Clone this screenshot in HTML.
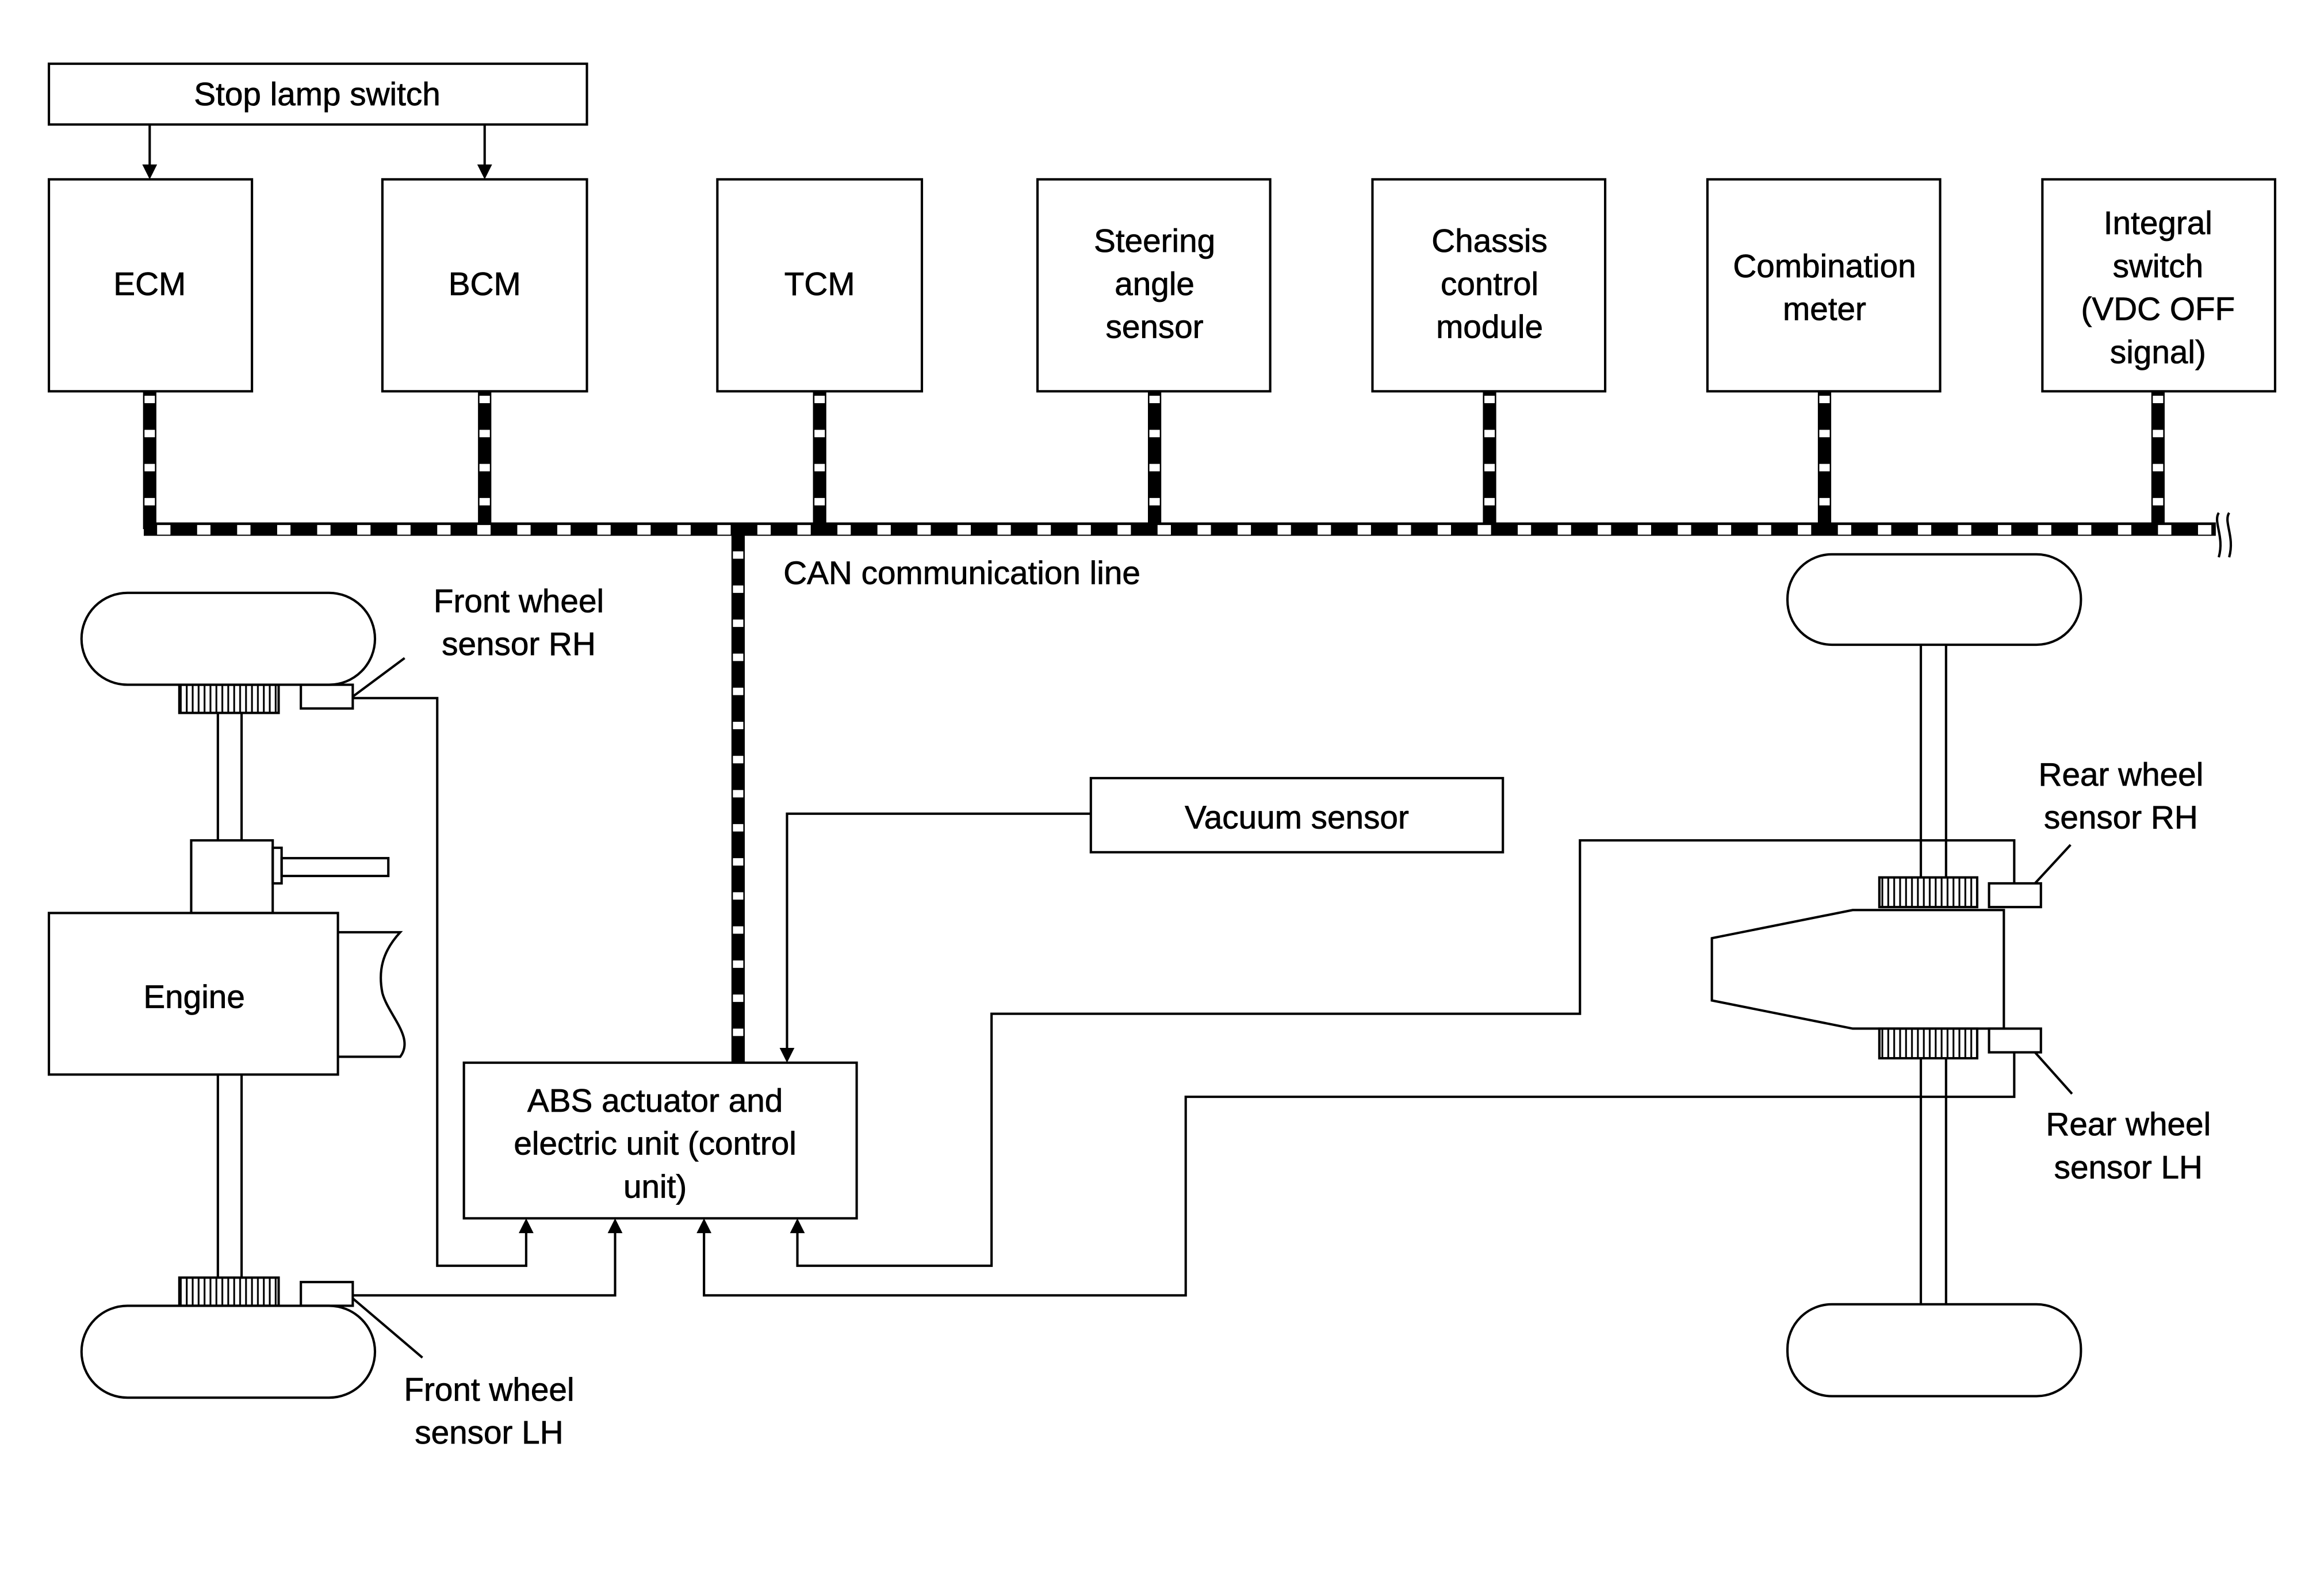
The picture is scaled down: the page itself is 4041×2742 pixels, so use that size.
<!DOCTYPE html>
<html><head><meta charset="utf-8"><style>
html,body{margin:0;padding:0;background:#fff;}
svg{display:block;}
text{font-family:"Liberation Sans",sans-serif;font-size:22px;fill:#000;text-anchor:middle;stroke:#000;stroke-width:0.3px;}
</style></head><body>
<svg width="4041" height="2742" viewBox="0 0 1568 1064" preserveAspectRatio="none" xmlns="http://www.w3.org/2000/svg">
<defs>
<pattern id="gear" width="4" height="20" patternUnits="userSpaceOnUse">
<line x1="2" y1="0" x2="2" y2="20" stroke="#000" stroke-width="1.2"/>
</pattern>
</defs>
<rect width="1568" height="1064" fill="#fff"/>
<g fill="none" stroke="#000" stroke-width="1.6">
<rect x="33" y="43" width="363" height="41"/>
<rect x="33" y="121" width="137" height="143"/>
<rect x="258" y="121" width="138" height="143"/>
<rect x="484" y="121" width="138" height="143"/>
<rect x="700" y="121" width="157" height="143"/>
<rect x="926" y="121" width="157" height="143"/>
<rect x="1152" y="121" width="157" height="143"/>
<rect x="1378" y="121" width="157" height="143"/>
<line x1="101" y1="84" x2="101" y2="112"/>
<line x1="327" y1="84" x2="327" y2="112"/>
<rect x="313" y="717" width="265" height="105"/>
<rect x="736" y="525" width="278" height="50"/>
<polyline points="736,549 531,549 531,708"/>
<rect x="55" y="400" width="198" height="62" rx="31"/>
<rect x="55" y="881" width="198" height="62" rx="31"/>
<rect x="121" y="462" width="67" height="19" fill="url(#gear)"/>
<rect x="121" y="862" width="67" height="19" fill="url(#gear)"/>
<rect x="203" y="462" width="35" height="16"/>
<rect x="203" y="865" width="35" height="16"/>
<line x1="147" y1="481" x2="147" y2="567"/><line x1="163" y1="481" x2="163" y2="567"/>
<line x1="147" y1="725" x2="147" y2="862"/><line x1="163" y1="725" x2="163" y2="862"/>
<rect x="129" y="567" width="55" height="49"/>
<rect x="184" y="572" width="6" height="24"/>
<rect x="190" y="579" width="72" height="12"/>
<rect x="33" y="616" width="195" height="109"/>
<path d="M228,629 L270,629 C258,642 255,655 258,670 C262,685 280,700 270,713 L228,713"/>
<rect x="1206" y="374" width="198" height="61" rx="30"/>
<rect x="1206" y="880" width="198" height="62" rx="30"/>
<line x1="1296" y1="435" x2="1296" y2="592"/><line x1="1313" y1="435" x2="1313" y2="592"/>
<line x1="1296" y1="714" x2="1296" y2="880"/><line x1="1313" y1="714" x2="1313" y2="880"/>
<polygon points="1155,633 1250,614 1352,614 1352,694 1250,694 1155,675"/>
<rect x="1268" y="592" width="66" height="20" fill="url(#gear)"/>
<rect x="1268" y="694" width="66" height="20" fill="url(#gear)"/>
<rect x="1342" y="596" width="35" height="16" fill="#fff"/>
<rect x="1342" y="694" width="35" height="16" fill="#fff"/>
<polyline points="238,471 295,471 295,854 355,854 355,831"/>
<polyline points="238,874 415,874 415,831"/>
<polyline points="1359,596 1359,567 1066,567 1066,684 669,684 669,854 538,854 538,831"/>
<polyline points="1359,710 1359,740 800,740 800,874 475,874 475,831"/>
<line x1="238" y1="470" x2="273" y2="444"/>
<line x1="238" y1="876" x2="285" y2="916"/>
<line x1="1373" y1="596" x2="1397" y2="570"/>
<line x1="1373" y1="710" x2="1398" y2="738"/>
<path d="M1497,346 C1493,352 1501,362 1497,376"/>
<path d="M1504,346 C1500,352 1508,362 1504,376"/>
</g>
<g fill="#000">
<path d="M96,111 L106,111 L101,121 z"/>
<path d="M322,111 L332,111 L327,121 z"/>
<path d="M526,707 L536,707 L531,717 z"/>
<path d="M350,832 L360,832 L355,822 z"/>
<path d="M410,832 L420,832 L415,822 z"/>
<path d="M470,832 L480,832 L475,822 z"/>
<path d="M533,832 L543,832 L538,822 z"/>
</g>
<g fill="none" stroke-linecap="butt">
<g stroke="#000" stroke-width="9">
<line x1="97" y1="357" x2="1495" y2="357"/>
<line x1="498" y1="357" x2="498" y2="717"/>
<line x1="101" y1="264" x2="101" y2="357"/>
<line x1="327" y1="264" x2="327" y2="357"/>
<line x1="553" y1="264" x2="553" y2="357"/>
<line x1="779" y1="264" x2="779" y2="357"/>
<line x1="1005" y1="264" x2="1005" y2="357"/>
<line x1="1231" y1="264" x2="1231" y2="357"/>
<line x1="1456" y1="264" x2="1456" y2="357"/>
</g>
<g stroke="#fff" stroke-width="6.5" stroke-dasharray="9 18">
<line x1="106" y1="357.5" x2="1492" y2="357.5"/>
</g>
<g stroke="#fff" stroke-width="7" stroke-dasharray="5 18">
<line x1="498" y1="372" x2="498" y2="717"/>
<line x1="101" y1="267" x2="101" y2="350"/>
<line x1="327" y1="267" x2="327" y2="350"/>
<line x1="553" y1="267" x2="553" y2="350"/>
<line x1="779" y1="267" x2="779" y2="350"/>
<line x1="1005" y1="267" x2="1005" y2="350"/>
<line x1="1231" y1="267" x2="1231" y2="350"/>
<line x1="1456" y1="267" x2="1456" y2="350"/>
</g>
</g>
<text x="214" y="71">Stop lamp switch</text>
<text x="101" y="199">ECM</text>
<text x="327" y="199">BCM</text>
<text x="553" y="199">TCM</text>
<text x="779" y="170">Steering</text><text x="779" y="199">angle</text><text x="779" y="228">sensor</text>
<text x="1005" y="170">Chassis</text><text x="1005" y="199">control</text><text x="1005" y="228">module</text>
<text x="1231" y="187">Combination</text><text x="1231" y="216">meter</text>
<text x="1456" y="158">Integral</text><text x="1456" y="187">switch</text><text x="1456" y="216">(VDC OFF</text><text x="1456" y="245">signal)</text>
<text x="649" y="394">CAN communication line</text>
<text x="350" y="413">Front wheel</text><text x="350" y="442">sensor RH</text>
<text x="875" y="559">Vacuum sensor</text>
<text x="1431" y="530">Rear wheel</text><text x="1431" y="559">sensor RH</text>
<text x="131" y="680">Engine</text>
<text x="442" y="750">ABS actuator and</text><text x="442" y="779">electric unit (control</text><text x="442" y="808">unit)</text>
<text x="1436" y="766">Rear wheel</text><text x="1436" y="795">sensor LH</text>
<text x="330" y="945">Front wheel</text><text x="330" y="974">sensor LH</text>
</svg>
</body></html>
